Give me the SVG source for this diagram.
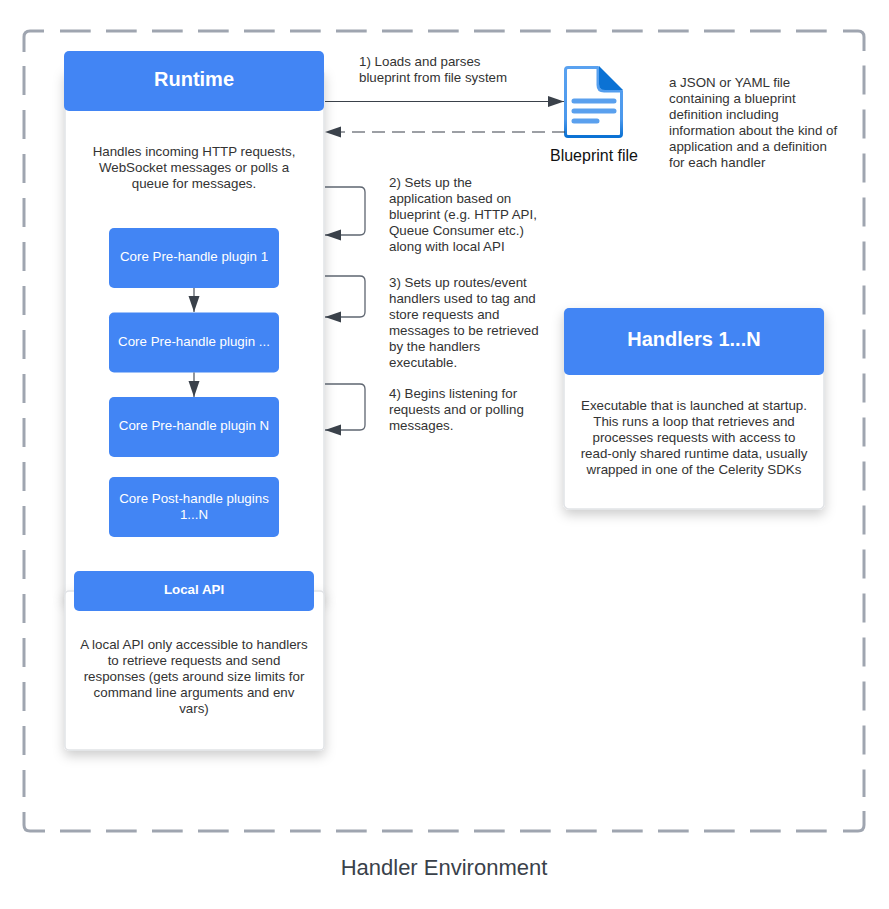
<svg xmlns="http://www.w3.org/2000/svg" width="889" height="909" viewBox="0 0 889 909">
<style>
text{font-family:"Liberation Sans",Arial,sans-serif;font-size:13.33px;fill:#333}
.c{text-anchor:middle}
.b{fill:#4285f4}
.card{fill:#fff;stroke:#e1e3e6;stroke-width:1.5;filter:url(#sh)}
.cn{fill:none;stroke:#3a414a;stroke-width:1.1}
.gr{stroke:#5e6570;stroke-width:1.3}
.fr{fill:none;stroke:#9fa5b0;stroke-width:3}
.wt{fill:#fff}
.h{font-size:20px;font-weight:bold;fill:#fff}
</style>
<defs>
<filter id="sh" x="-20%" y="-20%" width="140%" height="140%"><feDropShadow dx="0" dy="5" stdDeviation="6" flood-color="#000" flood-opacity="0.2"/></filter>
<marker id="ah" markerUnits="userSpaceOnUse" markerWidth="17" markerHeight="12" refX="16" refY="5.500" orient="auto"><path d="M0 0L16 5.500L0 11Z" fill="#3a414a"/></marker>
<linearGradient id="doc" x1="0" y1="0" x2="0" y2="1"><stop offset="0" stop-color="#5aa2f0"/><stop offset="0.75" stop-color="#4b98ec"/><stop offset="1" stop-color="#0b72d4"/></linearGradient>
</defs>
<g id="frame">
<path class="fr" d="M24 52V37Q24 31 30 31H44M843 31H858Q864 31 864 37V51M24 812V825Q24 831 30 831H45M843 831H858Q864 831 864 825V811"/>
<path class="fr" d="M60 31H828M60 831H828" stroke-dasharray="30.700 15.300"/>
<path class="fr" d="M24 66V797M864 65.500V797" stroke-dasharray="29 15"/>
</g>
<text class="c" x="444" y="875" style="font-size:22px;fill:#3a414a">Handler Environment</text>
<g id="runtime">
<rect class="card" x="65" y="70" width="259" height="530" rx="4"/>
<rect class="b" x="64" y="51" width="260" height="60" rx="5"/>
<text class="c h" x="194" y="86">Runtime</text>
<text class="c" x="194" y="156">Handles incoming HTTP requests,</text>
<text class="c" x="194" y="172">WebSocket messages or polls a</text>
<text class="c" x="194" y="188">queue for messages.</text>
</g>
<g id="local-api">
<rect class="card" x="65" y="591" width="259" height="159" rx="4"/>
<rect class="b" x="74" y="571" width="240" height="40" rx="5"/>
<text class="c" x="194" y="594" style="font-weight:bold;fill:#fff">Local API</text>
<text class="c" x="194" y="649">A local API only accessible to handlers</text>
<text class="c" x="194" y="665">to retrieve requests and send</text>
<text class="c" x="194" y="681">responses (gets around size limits for</text>
<text class="c" x="194" y="697">command line arguments and env</text>
<text class="c" x="194" y="713">vars)</text>
</g>
<g id="plugin-1"><rect class="b" x="109" y="228" width="170" height="60" rx="5"/><text class="c wt" x="194" y="261">Core Pre-handle plugin 1</text></g>
<g id="plugin-2"><rect class="b" x="109" y="312.500" width="170" height="60" rx="5"/><text class="c wt" x="194" y="345.500">Core Pre-handle plugin ...</text></g>
<g id="plugin-n"><rect class="b" x="109" y="397" width="170" height="60" rx="5"/><text class="c wt" x="194" y="430">Core Pre-handle plugin N</text></g>
<g id="post-plugins"><rect class="b" x="109" y="477" width="170" height="60" rx="5"/><text class="c wt" x="194" y="503">Core Post-handle plugins</text><text class="c wt" x="194" y="519">1...N</text></g>
<g id="blueprint">
<path d="M568 67.500H598V85Q598 91 604 91H621.500V134Q621.500 136.500 619 136.500H568Q565.500 136.500 565.500 134V70Q565.500 67.500 568 67.500Z" fill="#fff" stroke="url(#doc)" stroke-width="3" stroke-linejoin="round"/>
<path d="M599 66L623 90H605Q599 90 599 84Z" fill="#0b72d4"/>
<path d="M574 101H614M574 111H614M574 121H597" stroke="#5aa0ee" stroke-width="5" stroke-linecap="round"/>
<text class="c" x="594" y="161" style="font-size:16px;fill:#111">Blueprint file</text>
</g>
<g id="handlers">
<rect class="card" x="564" y="309" width="260" height="200" rx="5"/>
<rect class="b" x="564" y="308" width="260" height="67" rx="5"/>
<text class="c h" x="694" y="346">Handlers 1...N</text>
<text class="c" x="694" y="410">Executable that is launched at startup.</text>
<text class="c" x="694" y="426">This runs a loop that retrieves and</text>
<text class="c" x="694" y="442">processes requests with access to</text>
<text class="c" x="694" y="458">read-only shared runtime data, usually</text>
<text class="c" x="694" y="474">wrapped in one of the Celerity SDKs</text>
</g>
<g id="labels">
<text x="359" y="66">1) Loads and parses</text>
<text x="359" y="82">blueprint from file system</text>
<text x="669" y="87">a JSON or YAML file</text>
<text x="669" y="103">containing a blueprint</text>
<text x="669" y="119">definition including</text>
<text x="669" y="135">information about the kind of</text>
<text x="669" y="151">application and a definition</text>
<text x="669" y="167">for each handler</text>
<text x="389" y="187">2) Sets up the</text>
<text x="389" y="203">application based on</text>
<text x="389" y="219">blueprint (e.g. HTTP API,</text>
<text x="389" y="235">Queue Consumer etc.)</text>
<text x="389" y="251">along with local API</text>
<text x="389" y="287">3) Sets up routes/event</text>
<text x="389" y="303">handlers used to tag and</text>
<text x="389" y="319">store requests and</text>
<text x="389" y="335">messages to be retrieved</text>
<text x="389" y="351">by the handlers</text>
<text x="389" y="367">executable.</text>
<text x="389" y="398">4) Begins listening for</text>
<text x="389" y="414">requests and or polling</text>
<text x="389" y="430">messages.</text>
</g>
<g id="connectors">
<path class="cn" d="M325 101.500H564" marker-end="url(#ah)"/>
<path class="cn" d="M565 132H325" stroke-dasharray="13 7" marker-end="url(#ah)"/>
<path class="cn gr" d="M325 187H360Q365 187 365 192V230Q365 235 360 235H325" marker-end="url(#ah)"/>
<path class="cn gr" d="M325 276H360Q365 276 365 281V312Q365 317 360 317H325" marker-end="url(#ah)"/>
<path class="cn gr" d="M325 384H360Q365 384 365 389V425Q365 430 360 430H325" marker-end="url(#ah)"/>
<path class="cn" d="M194 288V312" marker-end="url(#ah)"/>
<path class="cn" d="M194 372.500V397" marker-end="url(#ah)"/>
</g>
</svg>
